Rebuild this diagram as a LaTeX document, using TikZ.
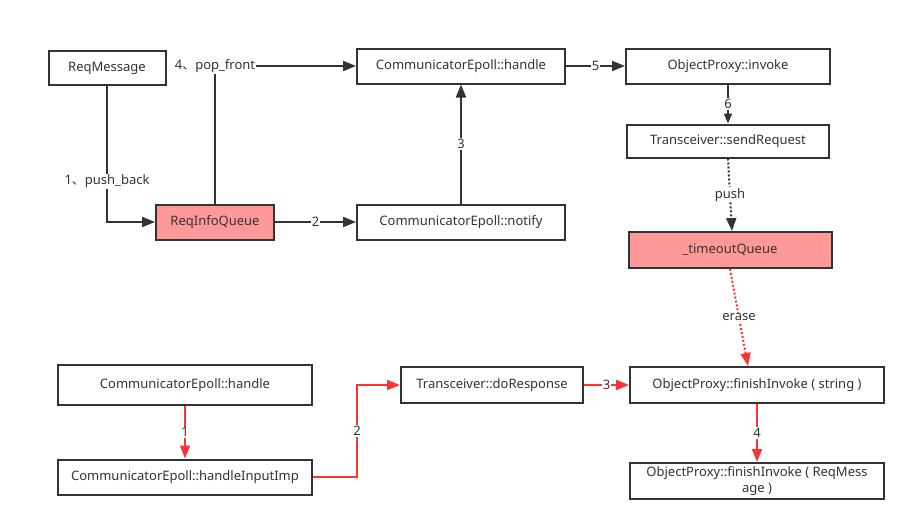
\documentclass[tikz,border=0pt]{standalone}
\usepackage{fontspec}
\setmainfont{Noto Sans}
\newfontfamily\cjk{Noto Sans CJK SC}
\usetikzlibrary{arrows.meta}
\definecolor{ink}{HTML}{333333}
\definecolor{redline}{HTML}{FF3333}
\definecolor{pinkfill}{HTML}{FF9999}
\begin{document}
\begin{tikzpicture}[x=1pt,y=-1pt,
  every node/.style={font=\fontsize{13}{15.5}\selectfont, text=ink},
  box/.style={draw=ink, line width=2pt, fill=white, inner sep=0pt, align=center},
  pinkbox/.style={box, fill=pinkfill},
  arr/.style={draw=ink, line width=2pt, -{Triangle[length=13pt,width=10pt]}},
  redarr/.style={draw=redline, line width=2pt, -{Triangle[length=13pt,width=10pt]}},
  lbl/.style={fill=white, inner sep=1pt}]
\useasboundingbox (0,0) rectangle (916,531);
\fill[white] (0,0) rectangle (916,531);
% top nodes
\node[box, minimum width=117pt, minimum height=34pt] (rm) at (107,68) {ReqMessage};
\node[box, minimum width=208pt, minimum height=35pt] (hdl) at (461,66) {CommunicatorEpoll::handle};
\node[box, minimum width=204pt, minimum height=35pt] (inv) at (728,66) {ObjectProxy::invoke};
\node[box, minimum width=202pt, minimum height=33pt] (send) at (728,141) {Transceiver::sendRequest};
\node[pinkbox, minimum width=118pt, minimum height=35pt] (riq) at (215,222) {ReqInfoQueue};
\node[box, minimum width=208pt, minimum height=35pt] (ntf) at (461,222) {CommunicatorEpoll::notify};
\node[pinkbox, minimum width=203pt, minimum height=36pt] (tq) at (730,250) {\_timeoutQueue};
% bottom nodes
\node[box, minimum width=254pt, minimum height=40pt] (bh) at (185,385) {CommunicatorEpoll::handle};
\node[box, minimum width=254pt, minimum height=35pt] (hii) at (185,477) {CommunicatorEpoll::handleInputImp};
\node[box, minimum width=182pt, minimum height=36pt] (dor) at (492,385) {Transceiver::doResponse};
\node[box, minimum width=254pt, minimum height=36pt] (fis) at (757,385) {ObjectProxy::finishInvoke ( string )};
\node[box, minimum width=254pt, minimum height=36pt] (fir) at (757,481) {ObjectProxy::finishInvoke ( ReqMess\\age )};
% top connectors
\draw[arr] (rm.south) |- node[lbl, pos=0.35] {1{\cjk 、}push\_back} (riq.west);
\draw[arr] (riq.north) |- node[lbl, pos=0.5] {4{\cjk 、}pop\_front} (hdl.west);
\draw[arr] (riq.east) -- node[lbl] {2} (ntf.west);
\draw[arr] (ntf.north) -- node[lbl] {3} (hdl.south);
\draw[arr] (hdl.east) -- node[lbl] {5} (inv.west);
\draw[arr, -{Triangle[length=10pt,width=8pt]}] (inv.south) -- node[lbl, pos=0.5] {6} (send.north);
\draw[arr, dash pattern=on 2pt off 2pt] (send.south) -- node[lbl] {push} ([xshift=2pt]tq.north);
\draw[redarr, dash pattern=on 2pt off 2pt] (tq.south) -- node[lbl] {erase} ([xshift=-9pt]fis.north);
% bottom connectors
\draw[redarr] (bh.south) -- node[lbl] {1} (hii.north);
\draw[redarr] (hii.east) -- ++(44,0) |- node[lbl, pos=0.25] {2} (dor.west);
\draw[redarr] (dor.east) -- node[lbl] {3} (fis.west);
\draw[redarr] (fis.south) -- node[lbl] {4} (fir.north);
\end{tikzpicture}
\end{document}
